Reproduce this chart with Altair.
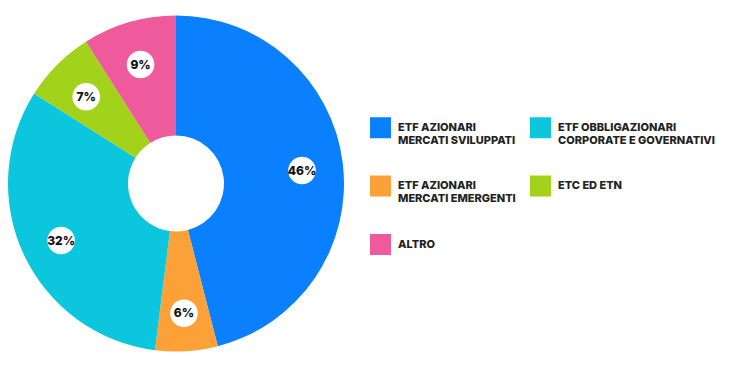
import altair as alt
import pandas as pd

categories = [
    "ETF AZIONARI\nMERCATI SVILUPPATI",
    "ETF AZIONARI\nMERCATI EMERGENTI",
    "ETF OBBLIGAZIONARI\nCORPORATE E GOVERNATIVI",
    "ETC ED ETN",
    "ALTRO",
]
values = [46, 6, 32, 7, 9]
pie_order = [1, 2, 3, 4, 5]
# legend is filled column by column: column 1 then column 2
legend_order = [
    "ETF AZIONARI\nMERCATI SVILUPPATI",
    "ETF AZIONARI\nMERCATI EMERGENTI",
    "ALTRO",
    "ETF OBBLIGAZIONARI\nCORPORATE E GOVERNATIVI",
    "ETC ED ETN",
]
legend_colors = ["#0A80FF", "#FBA137", "#EE5A9C", "#0CC6DD", "#A2D31A"]

df = pd.DataFrame({"cat": categories, "value": values, "ord": pie_order})

CX, CY, R, RI, RL = 176, 183.5, 168, 48, 127

color = alt.Color(
    "cat:N",
    scale=alt.Scale(domain=legend_order, range=legend_colors),
    legend=alt.Legend(
        title=None,
        orient="none",
        legendX=370,
        legendY=117,
        columns=2,
        symbolType="square",
        symbolSize=441,
        symbolStrokeWidth=0,
        symbolOpacity=1,
        labelFont="Inter",
        labelFontWeight=800,
        labelFontSize=11,
        labelColor="#222222",
        labelOffset=7,
        labelLimit=300,
        labelExpr="split(datum.label, '\\n')",
        rowPadding=29.5,
        columnPadding=14,
    ),
)

base = alt.Chart(df)

arcs = base.mark_arc(radius=R, radius2=RI, stroke=None).encode(
    theta=alt.Theta("value:Q", stack=True),
    order=alt.Order("ord:Q"),
    color=color,
    x=alt.value(CX),
    y=alt.value(CY),
)

lab = base.transform_window(
    cum="sum(value)", sort=[alt.SortField("ord")], frame=[None, 0]
).transform_joinaggregate(
    tot="sum(value)"
).transform_calculate(
    mid="(datum.cum - datum.value/2) / datum.tot * 2 * PI",
    px=f"{CX} + {RL} * sin(datum.mid)",
    py=f"{CY} + 3 - {RL} * cos(datum.mid)",
    txt="datum.value + '%'",
)

dots = lab.mark_point(filled=True, shape="circle", size=760, color="white", opacity=1).encode(
    x=alt.X("px:Q", scale=None, axis=None),
    y=alt.Y("py:Q", scale=None, axis=None),
)

texts = lab.mark_text(font="Inter", fontWeight=800, fontSize=12, color="#111111").encode(
    x=alt.X("px:Q", scale=None, axis=None),
    y=alt.Y("py:Q", scale=None, axis=None),
    text="txt:N",
)

chart = (
    alt.layer(arcs, dots, texts)
    .properties(width=737, height=368, autosize=alt.AutoSizeParams(type="none"), padding=0, background="white")
    .configure_view(stroke=None)
)

chart.save("out.html", embed_options={"renderer": "svg", "actions": False})
